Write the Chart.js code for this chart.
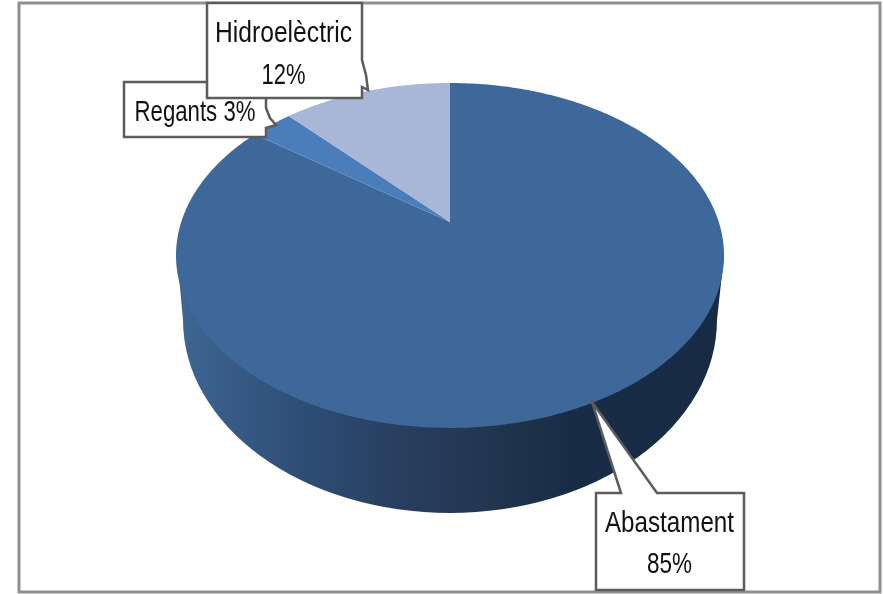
<!DOCTYPE html>
<html>
<head>
<meta charset="utf-8">
<style>
  html, body { margin: 0; padding: 0; background: #fff; }
  canvas { display: block; filter: blur(0.45px); }
</style>
<script src="https://cdn.jsdelivr.net/npm/chart.js@4"></script>
</head>
<body>
<canvas id="myChart" width="883" height="594"></canvas>
<script>
const categories = ['Abastament', 'Regants', 'Hidroelèctric'];
const shares = [85, 3, 12];
const sliceColors = ['#3e6899', '#4a7ebb', '#a8b7d7'];

// perspective of the tilted disc: unit circle -> screen
const cx = 450, apexY = 222, radius = 268.8;
const tiltA = 122.9, tiltC = -0.194;
function project(angle) {
  const u = Math.cos(angle), v = Math.sin(angle);
  const w = tiltC * v + 1;
  return [cx + radius * u / w, (tiltA * v + apexY) / w];
}

function drawSide(ctx) {
  const grad = ctx.createLinearGradient(177, 0, 724, 0);
  grad.addColorStop(0, '#3f6694');
  grad.addColorStop(0.2, '#2f5079');
  grad.addColorStop(0.4, '#283f60');
  grad.addColorStop(0.55, '#233752');
  grad.addColorStop(0.72, '#192c45');
  grad.addColorStop(1, '#182b44');
  ctx.fillStyle = grad;
  ctx.beginPath();
  ctx.moveTo(177, 255);
  ctx.lineTo(183, 320);
  ctx.ellipse(450, 320, 267, 193, 0, Math.PI, 0, true);
  ctx.lineTo(724, 255);
  ctx.closePath();
  ctx.fill();
}

function drawSlice(ctx, arc, color) {
  ctx.fillStyle = color;
  ctx.beginPath();
  ctx.moveTo(cx, apexY);
  const steps = Math.ceil((arc.endAngle - arc.startAngle) * 60);
  for (let i = 0; i <= steps; i++) {
    const p = project(arc.startAngle + (arc.endAngle - arc.startAngle) * i / steps);
    ctx.lineTo(p[0], p[1]);
  }
  ctx.closePath();
  ctx.fill();
}

function drawCallout(ctx, pts, lines, textX, firstY, lineGap, widths) {
  ctx.beginPath();
  pts.forEach((p, i) => i ? ctx.lineTo(p[0], p[1]) : ctx.moveTo(p[0], p[1]));
  ctx.closePath();
  ctx.fillStyle = '#fff';
  ctx.fill();
  ctx.strokeStyle = '#5c5c5c';
  ctx.lineWidth = 2.5;
  ctx.stroke();
  ctx.fillStyle = '#111';
  ctx.font = '30px "Liberation Sans", sans-serif';
  ctx.textAlign = 'center';
  ctx.textBaseline = 'alphabetic';
  lines.forEach((t, i) => ctx.fillText(t, textX, firstY + i * lineGap, widths[i]));
}

const pie3d = {
  id: 'pie3d',
  beforeDatasetDraw(chart, args) {
    const ctx = chart.ctx;
    ctx.save();
    drawSide(ctx);
    args.meta.data.forEach((arc, i) => drawSlice(ctx, arc, sliceColors[i]));
    ctx.restore();
    return false;
  },
  afterDatasetsDraw(chart) {
    const ctx = chart.ctx;
    ctx.save();
    // frame
    ctx.strokeStyle = '#8f8f8f';
    ctx.lineWidth = 3;
    ctx.strokeRect(19, 3, 861, 589);
    // Regants
    drawCallout(ctx, [[124, 82], [266, 82], [266, 108], [270, 118], [276, 125], [266, 128], [266, 137], [124, 137]],
      [categories[1] + ' ' + shares[1] + '%'], 195, 121, 0, [121]);
    // Hidroelèctric
    drawCallout(ctx, [[207, 3], [362, 3], [362, 60], [366, 75], [368, 90], [362, 87], [362, 98], [207, 98]],
      [categories[2], shares[2] + '%'], 283.5, 42, 42, [137, 44]);
    // Abastament
    drawCallout(ctx, [[596, 493], [621, 493], [592, 402], [657, 493], [744, 493], [744, 590], [596, 590]],
      [categories[0], shares[0] + '%'], 669.5, 532, 41, [129, 45]);
    ctx.restore();
  }
};

const myChart = new Chart(document.getElementById('myChart'), {
  type: 'pie',
  data: {
    labels: categories,
    datasets: [{ data: shares, backgroundColor: sliceColors, borderWidth: 0 }]
  },
  options: {
    responsive: false,
    animation: false,
    events: [],
    plugins: { legend: { display: false }, tooltip: { enabled: false } }
  },
  plugins: [pie3d]
});
</script>
</body>
</html>
